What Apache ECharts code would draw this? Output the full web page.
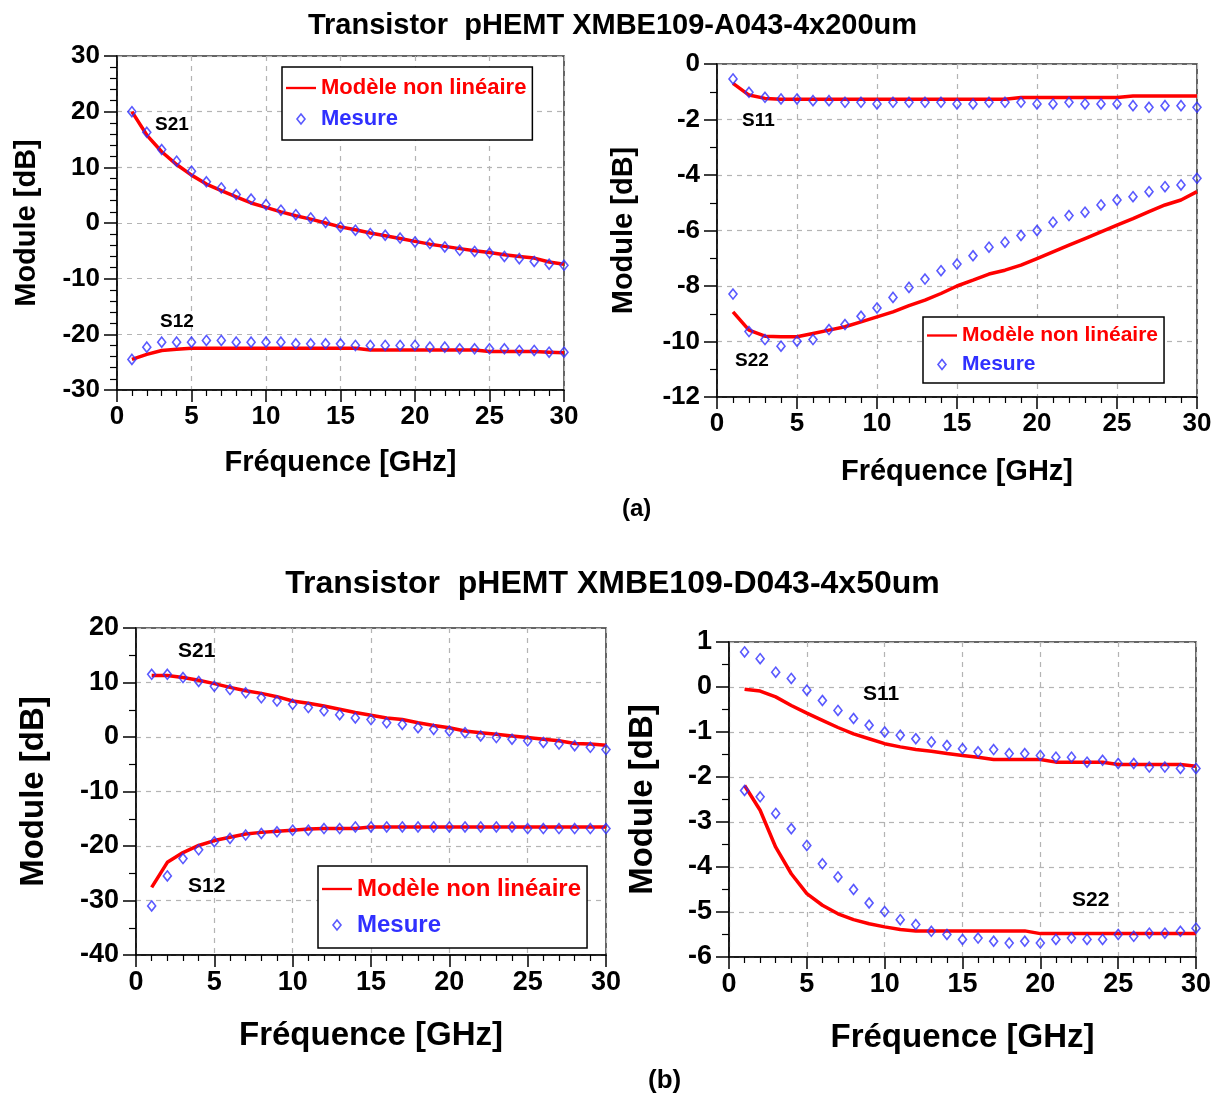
<!DOCTYPE html>
<html>
<head>
<meta charset="utf-8">
<script src="https://cdn.jsdelivr.net/npm/echarts@6/dist/echarts.min.js"></script>
<style>
html,body{margin:0;padding:0;background:#fff;}
#chart{width:1225px;height:1098px;}
</style>
</head>
<body>
<div id="chart"></div>
<script>
// ---------- DATA ----------
var freq = [1,2,3,4,5,6,7,8,9,10,11,12,13,14,15,16,17,18,19,20,21,22,23,24,25,26,27,28,29,30];

// (a) pHEMT XMBE109-A043-4x200um
var aS21Mes = [20.0,16.3,13.2,11.1,9.3,7.4,6.3,5.1,4.3,3.3,2.3,1.5,0.9,0.1,-0.7,-1.3,-1.9,-2.2,-2.7,-3.4,-3.7,-4.3,-4.9,-5.1,-5.4,-6.0,-6.4,-6.9,-7.4,-7.6];
var aS21Mod = [20.0,15.8,12.8,10.5,8.6,7.0,5.8,4.7,3.6,2.8,2.0,1.3,0.7,0.0,-0.7,-1.2,-1.8,-2.3,-2.8,-3.3,-3.8,-4.2,-4.6,-5.0,-5.3,-5.7,-6.0,-6.3,-7.0,-7.4];
var aS12Mes = [-24.5,-22.3,-21.4,-21.4,-21.4,-21.1,-21.1,-21.4,-21.4,-21.4,-21.4,-21.7,-21.7,-21.7,-21.7,-22.0,-22.0,-22.0,-22.0,-22.0,-22.3,-22.3,-22.6,-22.6,-22.6,-22.6,-22.9,-22.9,-23.2,-23.2];
var aS12Mod = [-24.5,-23.6,-22.9,-22.7,-22.5,-22.5,-22.5,-22.5,-22.5,-22.5,-22.5,-22.5,-22.5,-22.5,-22.5,-22.5,-22.8,-22.8,-22.8,-22.8,-22.8,-22.8,-22.8,-22.8,-23.1,-23.1,-23.1,-23.1,-23.2,-23.3];

var aS11Mes = [-0.54,-1.02,-1.20,-1.26,-1.26,-1.32,-1.32,-1.38,-1.38,-1.44,-1.38,-1.38,-1.38,-1.38,-1.44,-1.44,-1.38,-1.38,-1.38,-1.44,-1.44,-1.38,-1.44,-1.44,-1.44,-1.50,-1.56,-1.50,-1.50,-1.56];
var aS11Mod = [-0.70,-1.12,-1.24,-1.27,-1.27,-1.27,-1.27,-1.27,-1.27,-1.27,-1.27,-1.27,-1.27,-1.27,-1.27,-1.27,-1.27,-1.27,-1.21,-1.21,-1.21,-1.21,-1.21,-1.21,-1.21,-1.15,-1.15,-1.15,-1.15,-1.15];
var aS22Mes = [-8.29,-9.64,-9.93,-10.17,-9.99,-9.93,-9.57,-9.39,-9.09,-8.79,-8.41,-8.05,-7.75,-7.45,-7.21,-6.91,-6.60,-6.42,-6.18,-6.00,-5.70,-5.46,-5.34,-5.08,-4.90,-4.78,-4.60,-4.42,-4.36,-4.12];
var aS22Mod = [-8.93,-9.59,-9.81,-9.83,-9.83,-9.71,-9.59,-9.47,-9.29,-9.11,-8.93,-8.71,-8.51,-8.27,-8.00,-7.79,-7.57,-7.43,-7.25,-7.01,-6.77,-6.53,-6.29,-6.05,-5.81,-5.57,-5.32,-5.08,-4.90,-4.60];

// (b) pHEMT XMBE109-D043-4x50um
var bS21Mes = [11.5,11.5,10.9,10.2,9.3,8.7,8.1,7.2,6.6,6.0,5.4,4.8,4.1,3.5,3.2,2.6,2.3,1.7,1.4,1.1,0.8,0.2,-0.1,-0.4,-0.7,-1.0,-1.3,-1.6,-1.9,-2.3];
var bS21Mod = [11.3,11.3,10.9,10.4,9.8,9.1,8.5,8.0,7.4,6.6,6.2,5.7,5.1,4.5,4.0,3.5,3.2,2.6,2.1,1.7,1.1,0.8,0.5,0.2,-0.1,-0.4,-0.7,-1.2,-1.3,-1.5];
var bS12Mes = [-31.0,-25.5,-22.3,-20.7,-19.2,-18.6,-18.0,-17.7,-17.4,-17.1,-17.1,-16.8,-16.8,-16.5,-16.5,-16.5,-16.5,-16.5,-16.5,-16.5,-16.5,-16.5,-16.5,-16.5,-16.8,-16.8,-16.8,-16.8,-16.8,-16.8];
var bS12Mod = [-27.6,-23.0,-21.2,-19.9,-19.0,-18.4,-17.8,-17.5,-17.3,-17.1,-16.9,-16.8,-16.8,-16.8,-16.5,-16.5,-16.5,-16.5,-16.5,-16.5,-16.5,-16.5,-16.5,-16.5,-16.5,-16.5,-16.5,-16.5,-16.5,-16.5];

var bS11Mes = [0.78,0.63,0.33,0.19,-0.07,-0.30,-0.52,-0.70,-0.85,-1.00,-1.07,-1.15,-1.22,-1.30,-1.37,-1.44,-1.39,-1.48,-1.48,-1.52,-1.56,-1.56,-1.67,-1.63,-1.70,-1.70,-1.78,-1.78,-1.81,-1.81];
var bS11Mod = [-0.05,-0.09,-0.22,-0.41,-0.58,-0.74,-0.90,-1.04,-1.15,-1.26,-1.33,-1.39,-1.43,-1.48,-1.52,-1.56,-1.61,-1.61,-1.61,-1.61,-1.67,-1.67,-1.67,-1.67,-1.72,-1.72,-1.72,-1.72,-1.72,-1.76];
var bS22Mes = [-2.30,-2.44,-2.81,-3.15,-3.52,-3.93,-4.22,-4.50,-4.80,-4.99,-5.17,-5.28,-5.43,-5.50,-5.61,-5.58,-5.65,-5.69,-5.65,-5.69,-5.61,-5.58,-5.61,-5.61,-5.50,-5.54,-5.47,-5.47,-5.43,-5.36];
var bS22Mod = [-2.19,-2.74,-3.56,-4.15,-4.59,-4.85,-5.04,-5.17,-5.26,-5.33,-5.39,-5.42,-5.42,-5.42,-5.42,-5.42,-5.42,-5.42,-5.42,-5.48,-5.48,-5.48,-5.48,-5.48,-5.48,-5.48,-5.48,-5.48,-5.48,-5.48];

// axis ranges
var yRanges = [
  {min:-30, max:30, interval:10, minor:5},
  {min:-12, max:0, interval:2, minor:2},
  {min:-40, max:20, interval:10, minor:2},
  {min:-6, max:1, interval:1, minor:2}
];
var MODEL = 'Modèle non linéaire';
var MES = 'Mesure';
var TITLE_A = 'Transistor  pHEMT XMBE109-A043-4x200um';
var TITLE_B = 'Transistor  pHEMT XMBE109-D043-4x50um';

// ---------- CHART ----------
var FONT = '"Liberation Sans", Arial, sans-serif';
var RED = '#ff0000';
var BLUE = '#3030ff';

function pairs(ys){ return freq.map(function(f,i){ return [f, ys[i]]; }); }

var grids = [
  {left:117, top:56, width:447, height:334},
  {left:717, top:64, width:480, height:333},
  {left:136, top:628, width:470, height:327},
  {left:729, top:642, width:467, height:315}
];
var tickFont = [26,26,27,27];
var nameFont = [29,29,33,33];
var xNameGap = [58,60,64,64];
var yNameGap = [76,79,86,70];

var xAxes = [], yAxes = [];
grids.forEach(function(g,i){
  g.show = true; g.borderColor = '#333'; g.borderWidth = 1.5; g.backgroundColor = '#fff';
  xAxes.push({
    type:'value', gridIndex:i, min:0, max:30, interval:5,
    name:'Fréquence [GHz]', nameLocation:'middle', nameGap:xNameGap[i],
    nameTextStyle:{fontFamily:FONT, fontWeight:'bold', fontSize:nameFont[i], color:'#000'},
    axisLine:{onZero:false, lineStyle:{color:'#000', width:1.5}},
    axisTick:{show:true, length:12, lineStyle:{color:'#000', width:1.5}},
    minorTick:{show:true, splitNumber:5, length:6, lineStyle:{color:'#000', width:1.2}},
    axisLabel:{fontFamily:FONT, fontWeight:'bold', fontSize:tickFont[i], color:'#000', margin:14, showMinLabel:true, showMaxLabel:true},
    splitLine:{show:true, lineStyle:{color:'#b4b4b4', type:[5,5], width:1.2}}
  });
  var r = yRanges[i];
  yAxes.push({
    type:'value', gridIndex:i, min:r.min, max:r.max, interval:r.interval,
    name:'Module [dB]', nameLocation:'middle', nameGap:yNameGap[i],
    nameTextStyle:{fontFamily:FONT, fontWeight:'bold', fontSize:nameFont[i], color:'#000'},
    axisLine:{onZero:false, lineStyle:{color:'#000', width:1.5}},
    axisTick:{show:true, length:13, lineStyle:{color:'#000', width:1.5}},
    minorTick:{show:true, splitNumber:r.minor, length:7, lineStyle:{color:'#000', width:1.2}},
    axisLabel:{fontFamily:FONT, fontWeight:'bold', fontSize:tickFont[i], color:'#000', margin:17, showMinLabel:true, showMaxLabel:true},
    splitLine:{show:true, lineStyle:{color:'#b4b4b4', type:[5,5], width:1.2}}
  });
});

function modelSeries(ys, gi){
  return {name:MODEL, type:'line', xAxisIndex:gi, yAxisIndex:gi, data:pairs(ys),
    symbol:'none', lineStyle:{color:RED, width:3.5}, itemStyle:{color:RED}, z:3, animation:false};
}
function mesSeries(ys, gi){
  return {name:MES, type:'scatter', xAxisIndex:gi, yAxisIndex:gi, data:pairs(ys),
    symbol:'diamond', symbolSize:[8,10],
    itemStyle:{color:'rgba(255,255,255,0)', borderColor:BLUE, borderWidth:1.6}, z:4, animation:false};
}

var series = [
  modelSeries(aS21Mod,0), mesSeries(aS21Mes,0), modelSeries(aS12Mod,0), mesSeries(aS12Mes,0),
  modelSeries(aS11Mod,1), mesSeries(aS11Mes,1), modelSeries(aS22Mod,1), mesSeries(aS22Mes,1),
  modelSeries(bS21Mod,2), mesSeries(bS21Mes,2), modelSeries(bS12Mod,2), mesSeries(bS12Mes,2),
  modelSeries(bS11Mod,3), mesSeries(bS11Mes,3), modelSeries(bS22Mod,3), mesSeries(bS22Mes,3)
];

var LINE_ICON = 'path://M0,0 L32,0 L32,2.5 L0,2.5 Z';
var DIAMOND_ICON = 'path://M4,0 L8,5 L4,10 L0,5 Z';

function legendAt(left, top, fs, gap, pad){
  return {
    left:left, top:top, orient:'vertical', itemGap:gap, itemWidth:30, itemHeight:10,
    symbolKeepAspect:true,
    padding:pad, borderColor:'#000', borderWidth:1.5, backgroundColor:'#fff',
    selectedMode:false, z:10,
    data:[
      {name:MODEL, icon:LINE_ICON, itemStyle:{color:RED, borderWidth:0},
       textStyle:{color:RED, fontFamily:FONT, fontWeight:'bold', fontSize:fs}},
      {name:MES, icon:DIAMOND_ICON, itemStyle:{color:'rgba(255,255,255,0)', borderColor:BLUE, borderWidth:1.6},
       textStyle:{color:BLUE, fontFamily:FONT, fontWeight:'bold', fontSize:fs}}
    ]
  };
}

function label(text, x, y, fs){
  return {type:'text', left:x, top:y, z:20,
    style:{text:text, fontFamily:FONT, fontWeight:'bold', fontSize:fs, fill:'#000'}};
}

var option = {
  backgroundColor:'#fff',
  animation:false,
  title:[
    {text:TITLE_A, left:'center', top:6, textStyle:{fontFamily:FONT, fontWeight:'bold', fontSize:29, color:'#000'}},
    {text:TITLE_B, left:'center', top:563, textStyle:{fontFamily:FONT, fontWeight:'bold', fontSize:32, color:'#000'}},
    {text:'(a)', left:617, top:492, textStyle:{fontFamily:FONT, fontWeight:'bold', fontSize:24, color:'#000'}},
    {text:'(b)', left:643, top:1063, textStyle:{fontFamily:FONT, fontWeight:'bold', fontSize:26, color:'#000'}}
  ],
  legend:[
    legendAt(282,67,22,9,[10,6,10,4]),
    legendAt(923,317,21,8,[8,6,8,4]),
    legendAt(318,866,24,12,[11,6,11,4])
  ],
  grid:grids, xAxis:xAxes, yAxis:yAxes, series:series,
  graphic:[
    label('S21',155,115,19), label('S12',160,312,19),
    label('S11',742,111,19), label('S22',735,351,19),
    label('S21',178,641,21), label('S12',188,876,21),
    label('S11',863,684,21), label('S22',1072,890,21)
  ]
};

var chart = echarts.init(document.getElementById('chart'), null, {renderer:'canvas'});
chart.setOption(option);
</script>
</body>
</html>
